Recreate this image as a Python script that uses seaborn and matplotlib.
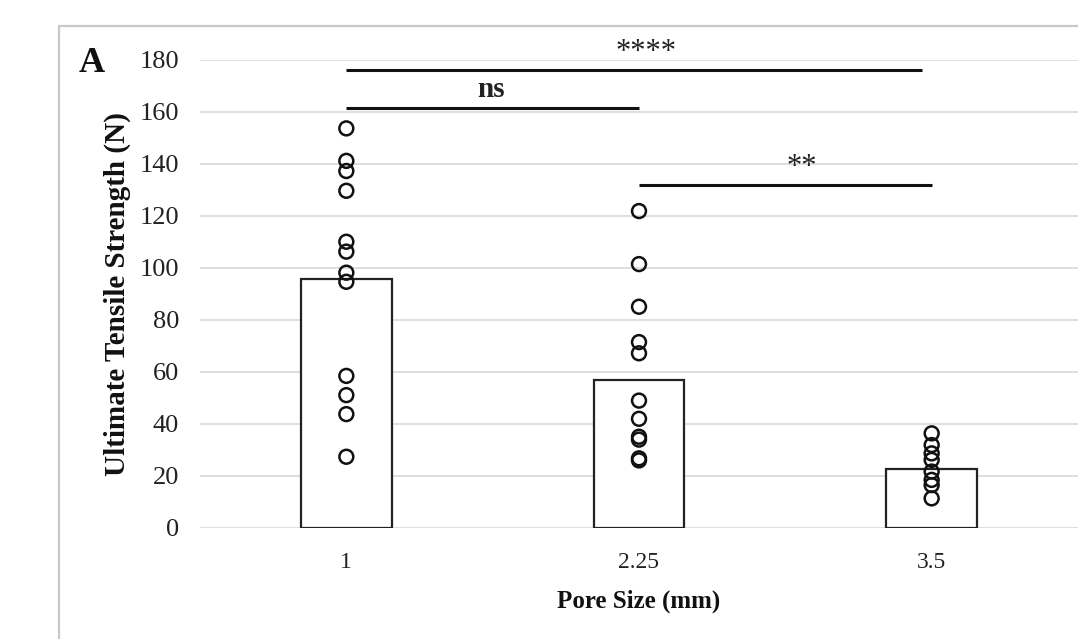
import matplotlib
matplotlib.use("Agg")
import matplotlib.pyplot as plt
from matplotlib.lines import Line2D
import seaborn as sns
import pandas as pd

# ---- data ----
categories = ["1", "2.25", "3.5"]
bar_means = [95.6, 56.9, 22.7]
group_1 = [153.7, 141.2, 137.3, 129.7, 110.1, 106.3, 98.2, 94.7, 58.5, 51.1, 43.8, 27.4]
group_2 = [121.9, 101.5, 85.1, 71.5, 67.2, 49.0, 42.0, 35.1, 34.0, 26.8, 26.0]
group_3 = [36.4, 31.9, 28.7, 26.2, 21.7, 18.5, 16.5, 11.4]
y_ticks = [0, 20, 40, 60, 80, 100, 120, 140, 160, 180]
# significance comparisons: (start category index, end category index, bracket height, label, label x)
comparisons = [(0, 1.966, 176.2, "****", 1.024), (0, 1, 161.5, "ns", 0.495), (1, 2, 132.0, "**", 1.555)]

sns.set_theme(style="white")
serif = ["Liberation Serif", "DejaVu Serif"]
plt.rcParams["font.family"] = serif

pts = pd.DataFrame({
    "Pore": [categories[0]] * len(group_1) + [categories[1]] * len(group_2) + [categories[2]] * len(group_3),
    "UTS": group_1 + group_2 + group_3,
})
bars = pd.DataFrame({"Pore": categories, "UTS": bar_means})

fig = plt.figure(figsize=(10.78, 6.39), dpi=100)
ax = fig.add_axes([200 / 1078, 1 - 528 / 639, 1 - 200 / 1078, (528 - 60) / 639])

sns.barplot(data=bars, x="Pore", y="UTS", order=categories, color="white",
            edgecolor="#222222", linewidth=1.6, width=0.31, errorbar=None, ax=ax, zorder=3)
sns.stripplot(data=pts, x="Pore", y="UTS", order=categories, jitter=False, size=10,
              color="white", edgecolor="#111111", linewidth=1.8, ax=ax, zorder=4)
for coll in ax.collections:
    coll.set_facecolor("none")
    coll.set_edgecolor("#111111")

ax.set_ylim(0, 180)
ax.set_xlim(-0.5, 2.5)
ax.set_yticks(y_ticks)
ax.yaxis.grid(True, color="#d9d9d9", linewidth=1.2, zorder=0)
ax.set_axisbelow(True)
for s in ax.spines.values():
    s.set_visible(False)
ax.tick_params(axis="both", length=0, colors="#222222")
ax.tick_params(axis="y", pad=15, labelsize=19)
ax.tick_params(axis="x", pad=17, labelsize=17)
ax.set_xlabel("Pore Size (mm)", fontsize=18, fontweight="bold", color="#111111", labelpad=12)
ax.set_ylabel("Ultimate Tensile Strength (N)", fontsize=21, fontweight="bold", color="#111111", labelpad=6)

for x0, x1, h, lab, tx in comparisons:
    ax.plot([x0, x1], [h, h], color="#111111", linewidth=2.2, solid_capstyle="butt", zorder=5, clip_on=False)
    if lab == "ns":
        ax.text(tx, h + 2.0, lab, ha="center", va="bottom", fontsize=21,
                fontweight="bold", color="#222222", clip_on=False)
    else:
        ax.text(tx, h + 1.0, lab, ha="center", va="bottom", fontsize=22,
                color="#222222", clip_on=False)

fig.text(92 / 1078, 1 - 64 / 639, "A", fontsize=26, fontweight="bold", ha="center", va="center", color="#111111")

# outer chart frame (top and left edges visible)
fig.add_artist(Line2D([59 / 1078, 1], [1 - 26 / 639, 1 - 26 / 639], color="#c8c8c8", linewidth=1.6))
fig.add_artist(Line2D([59 / 1078, 59 / 1078], [0, 1 - 26 / 639], color="#c8c8c8", linewidth=1.6))

fig.savefig("out.png", dpi=100, facecolor="white")
